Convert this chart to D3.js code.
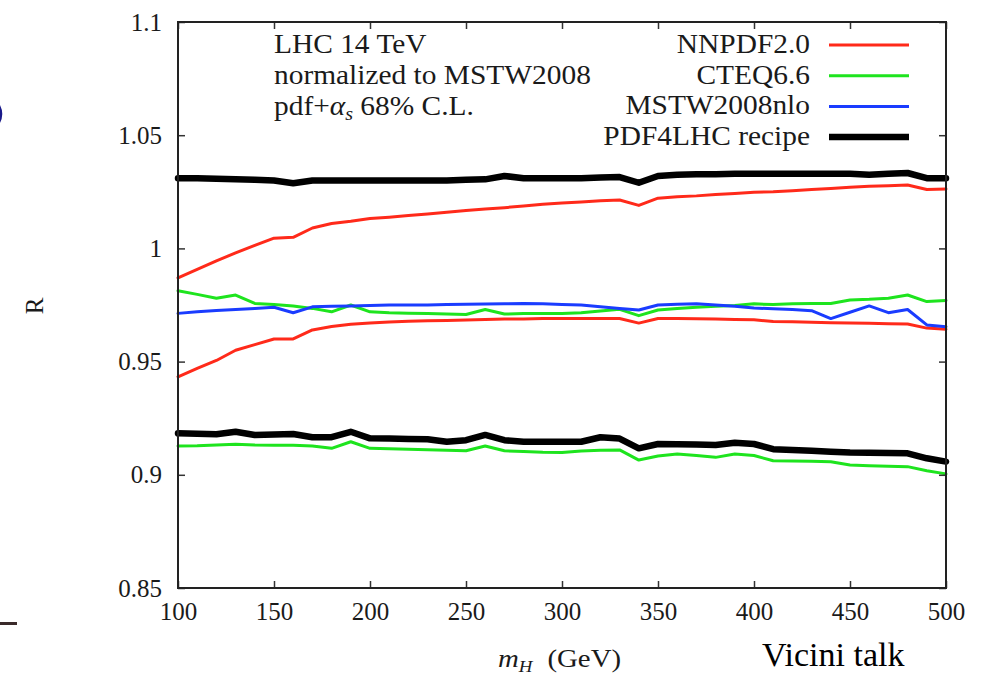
<!DOCTYPE html>
<html>
<head>
<meta charset="utf-8">
<script src="https://cdn.jsdelivr.net/npm/d3@7/dist/d3.min.js"></script>
<style>
  html, body { margin: 0; padding: 0; background: #fff; }
  svg { display: block; }
  text { font-family: "Liberation Serif", "DejaVu Serif", serif; fill: #1a1a1a; }
</style>
</head>
<body>
<svg id="chart" width="987" height="676"></svg>
<script>
// Higgs mass points (GeV)
const mH = [100,110,120,130,140,150,160,170,180,190,200,210,220,230,240,250,260,270,280,290,300,
            310,320,330,340,350,360,370,380,390,400,410,420,430,440,450,460,470,480,490,500];

// PDF4LHC recipe envelope
const pdf4lhcHi = [1.031,1.031,1.0308,1.0305,1.0303,1.030,1.0288,1.030,1.030,1.030,1.030,1.030,1.030,1.030,1.030,1.0303,1.0305,1.032,1.031,1.031,1.031,
                   1.031,1.0313,1.0315,1.029,1.032,1.0325,1.0327,1.0328,1.033,1.033,1.033,1.033,1.033,1.033,1.033,1.0325,1.033,1.0333,1.031,1.031];
const pdf4lhcLo = [0.9183,0.9181,0.9179,0.919,0.9176,0.9178,0.918,0.9166,0.9166,0.919,0.9161,0.916,0.9158,0.9157,0.9146,0.9153,0.9176,0.9153,0.9146,0.9146,0.9146,
                   0.9146,0.9166,0.916,0.9117,0.9136,0.9135,0.9134,0.9132,0.9142,0.9136,0.9113,0.911,0.9106,0.9102,0.9098,0.9097,0.9096,0.9095,0.9073,0.9058];

// NNPDF2.0 band
const nnpdfHi = [0.987,0.9907,0.9945,0.998,1.0013,1.0045,1.0049,1.009,1.011,1.012,1.0132,1.0138,1.0145,1.0152,1.016,1.0167,1.0174,1.018,1.0187,1.0195,1.020,
                 1.0205,1.021,1.0214,1.019,1.0222,1.0228,1.0232,1.0238,1.0243,1.0248,1.025,1.0255,1.026,1.0265,1.027,1.0274,1.0277,1.028,1.026,1.0262];
const nnpdfLo = [0.9433,0.947,0.9505,0.955,0.9575,0.960,0.960,0.964,0.9655,0.9665,0.967,0.9675,0.9678,0.968,0.9682,0.9684,0.9686,0.9688,0.9688,0.969,0.969,
                 0.969,0.969,0.969,0.967,0.969,0.969,0.9689,0.9688,0.9686,0.9685,0.9677,0.9676,0.9674,0.9672,0.967,0.9669,0.9667,0.9666,0.9648,0.9643];

// CTEQ6.6 band
const cteqHi = [0.9813,0.9797,0.978,0.9794,0.9757,0.9752,0.9746,0.9735,0.972,0.975,0.972,0.9716,0.9714,0.9712,0.971,0.9708,0.973,0.971,0.9712,0.9712,0.9713,
                0.9716,0.9724,0.9731,0.9703,0.9728,0.9735,0.974,0.9745,0.9748,0.9755,0.9752,0.9755,0.9757,0.9757,0.9772,0.9775,0.978,0.9794,0.9765,0.977];
const cteqLo = [0.9127,0.9128,0.9132,0.9135,0.9132,0.9131,0.913,0.9127,0.9117,0.9146,0.9117,0.9115,0.9113,0.9111,0.9108,0.9106,0.9127,0.9106,0.9103,0.910,0.9099,
                0.9105,0.9108,0.911,0.9065,0.9083,0.9092,0.9085,0.9077,0.9092,0.9085,0.9062,0.9061,0.906,0.9058,0.9043,0.904,0.9038,0.9036,0.9018,0.9004];

// MSTW2008nlo lower edge
const mstwLo = [0.9713,0.972,0.9726,0.973,0.9735,0.974,0.9716,0.9742,0.9744,0.9746,0.9748,0.975,0.975,0.975,0.9752,0.9753,0.9754,0.9755,0.9757,0.9755,0.9752,
                0.975,0.9742,0.9735,0.9728,0.975,0.9753,0.9755,0.975,0.9745,0.9737,0.9733,0.973,0.9725,0.969,0.9718,0.9746,0.9716,0.973,0.9662,0.9654];

const xTicks = [100,150,200,250,300,350,400,450,500];
const yTicks = [0.85,0.9,0.95,1,1.05,1.1];
const yTickLabels = ["0.85","0.9","0.95","1","1.05","1.1"];

const legendNames = ["NNPDF2.0","CTEQ6.6","MSTW2008nlo","PDF4LHC recipe"];
const legendColors = ["#ff2a1a","#1ee41e","#1a3cff","#000000"];
const legendWidths = [3,3,3,6.5];

const svg = d3.select("#chart");
const margin = {left: 178, right: 41, top: 22, bottom: 88};
const W = 987, H = 676;
const wide = 1.11; // horizontal stretch for the roman labels

const x = d3.scaleLinear().domain([100,500]).range([margin.left, W - margin.right]);
const y = d3.scaleLinear().domain([0.85,1.1]).range([H - margin.bottom, margin.top]);

// curves: [values, colour index]
const curves = [
  [nnpdfHi,0],[nnpdfLo,0],
  [cteqHi,1],[cteqLo,1],
  [mstwLo,2],
  [pdf4lhcHi,3],[pdf4lhcLo,3]
];

const line = d3.line().x((d,i) => x(mH[i])).y(d => y(d));

const plot = svg.append("g");
// coloured sets first, then the black envelope on top
curves.forEach(([vals, ci]) => {
  plot.append("path")
    .datum(vals)
    .attr("d", line)
    .attr("fill","none")
    .attr("stroke", legendColors[ci])
    .attr("stroke-width", legendWidths[ci])
    .attr("stroke-linejoin","round")
    .attr("stroke-linecap","round");
});

// axes with inward ticks, mirrored on top/right
const tickLen = 7;
const axB = d3.axisBottom(x).tickValues(xTicks).tickSize(-tickLen).tickPadding(14).tickFormat(d3.format("d"));
const axT = d3.axisTop(x).tickValues(xTicks).tickSize(-tickLen).tickFormat("");
const axL = d3.axisLeft(y).tickValues(yTicks).tickSize(-tickLen).tickPadding(16).tickFormat((d,i) => yTickLabels[i]);
const axR = d3.axisRight(y).tickValues(yTicks).tickSize(-tickLen).tickFormat("");

function styleAxis(g) {
  g.select(".domain").remove();
  g.selectAll(".tick line").attr("stroke","#333").attr("stroke-width",1.5);
  g.selectAll(".tick text").attr("fill","#1a1a2a").style("font-family","'Liberation Serif', serif").style("font-size","25px");
}
svg.append("g").attr("transform",`translate(0,${H - margin.bottom})`).call(axB).call(styleAxis);
svg.append("g").attr("transform",`translate(0,${margin.top})`).call(axT).call(styleAxis);
svg.append("g").attr("transform",`translate(${margin.left},0)`).call(axL).call(styleAxis);
svg.append("g").attr("transform",`translate(${W - margin.right},0)`).call(axR).call(styleAxis);

// frame
svg.append("rect")
  .attr("x", margin.left).attr("y", margin.top)
  .attr("width", W - margin.left - margin.right)
  .attr("height", H - margin.top - margin.bottom)
  .attr("fill","none").attr("stroke","#222").attr("stroke-width",2);

// text placed at (x0, y0) and stretched horizontally about that anchor
function wideText(parent, x0, y0, size) {
  return parent.append("text")
    .attr("transform", `translate(${x0},${y0}) scale(${wide},1)`)
    .style("font-size", size + "px");
}

// annotation block
const ann = svg.append("g");
wideText(ann, 274, 53, 26.5).text("LHC 14 TeV");
wideText(ann, 274, 84, 26.5).text("normalized to MSTW2008");
const t3 = wideText(ann, 274, 115, 26.5);
t3.append("tspan").text("pdf+");
t3.append("tspan").style("font-style","italic").text("α");
t3.append("tspan").attr("dy",5).style("font-size","18px").style("font-style","italic").text("s");
t3.append("tspan").attr("dy",-5).text(" 68% C.L.");

// legend
const leg = svg.append("g");
legendNames.forEach((name, i) => {
  const yy = 53 + i * 30.7;
  wideText(leg, 810, yy, 26.5).attr("text-anchor","end").text(name);
  leg.append("line")
    .attr("x1",829).attr("x2",909)
    .attr("y1",yy - 8).attr("y2",yy - 8)
    .attr("stroke",legendColors[i]).attr("stroke-width",legendWidths[i]);
});

// axis titles
svg.append("text").attr("transform","translate(43,306) rotate(-90)").attr("text-anchor","middle")
  .style("font-size","25px").text("R");
const xt = wideText(svg, 498, 667, 26);
xt.append("tspan").style("font-style","italic").text("m");
xt.append("tspan").attr("dy",5).style("font-size","17px").style("font-style","italic").text("H");
xt.append("tspan").attr("dy",-5).attr("dx",7).text(" (GeV)");

// source note
svg.append("text").attr("x",762).attr("y",666).style("font-size","34px").style("fill","#000").text("Vicini talk");

// slide fragments at the left edge
svg.append("path").attr("d","M -4 101 Q 6 114 -4 127").attr("fill","none")
  .attr("stroke","#1a1a8a").attr("stroke-width",2.5);
svg.append("rect").attr("x",0).attr("y",622).attr("width",17).attr("height",3).attr("fill","#3a2a2a");
</script>
</body>
</html>
